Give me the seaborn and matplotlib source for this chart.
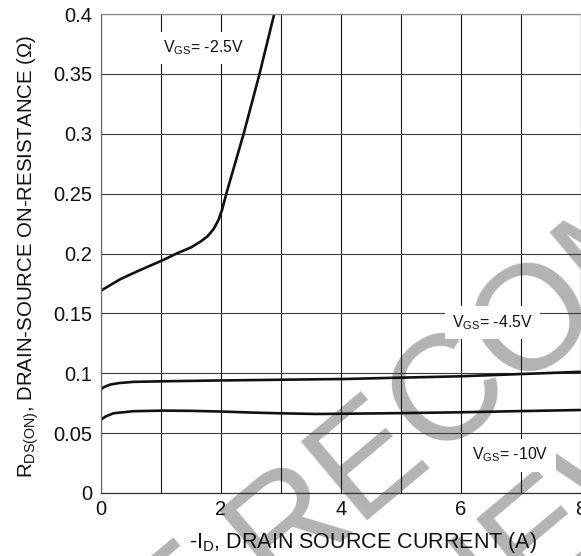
import numpy as np
import pandas as pd
import matplotlib
matplotlib.use("Agg")
import matplotlib.pyplot as plt
import seaborn as sns

# ---------------- data ----------------
id_25 = [0.0, 0.32, 0.6, 1.04, 1.27, 1.5, 1.66, 1.78, 1.88, 1.96, 2.02, 2.10, 2.38, 2.64, 2.89]
r_25 = [0.169, 0.1785, 0.185, 0.1946, 0.2002, 0.205, 0.2099, 0.2145, 0.2205, 0.228, 0.2365, 0.2516, 0.300, 0.349, 0.400]

id_45 = [0.0, 0.05, 0.15, 0.3, 0.54, 1.04, 2.03, 3.03, 4.06, 4.98, 5.95, 6.99, 8.0]
r_45 = [0.0865, 0.0885, 0.0905, 0.0918, 0.0928, 0.0933, 0.0940, 0.0946, 0.0952, 0.0963, 0.0974, 0.0993, 0.1012]

id_10 = [0.0, 0.08, 0.21, 0.54, 1.04, 1.5, 2.03, 2.5, 3.03, 3.6, 4.07, 5.0, 6.0, 7.0, 8.0]
r_10 = [0.0612, 0.0640, 0.0666, 0.0683, 0.0688, 0.0686, 0.0680, 0.0672, 0.0665, 0.0660, 0.0662, 0.0667, 0.0674, 0.0684, 0.0693]

series_names = ["-2.5V", "-4.5V", "-10V"]
x_ticks = [0, 1, 2, 3, 4, 5, 6, 7, 8]
x_ticklabels = ["0", "", "2", "", "4", "", "6", "", "8"]
y_ticks = [0, 0.05, 0.1, 0.15, 0.2, 0.25, 0.3, 0.35, 0.4]
y_ticklabels = ["0", "0.05", "0.1", "0.15", "0.2", "0.25", "0.3", "0.35", "0.4"]

df = pd.concat([
    pd.DataFrame({"id": id_25, "r": r_25, "vgs": series_names[0]}),
    pd.DataFrame({"id": id_45, "r": r_45, "vgs": series_names[1]}),
    pd.DataFrame({"id": id_10, "r": r_10, "vgs": series_names[2]}),
], ignore_index=True)

# ---------------- style ----------------
sns.set_style("white")
plt.rcParams["font.family"] = ["Liberation Sans", "DejaVu Sans"]
plt.rcParams["mathtext.fontset"] = "custom"
plt.rcParams["mathtext.rm"] = "Liberation Sans"
plt.rcParams["mathtext.it"] = "Liberation Sans:italic"
plt.rcParams["mathtext.bf"] = "Liberation Sans:bold"

W, H = 581, 556
fig = plt.figure(figsize=(W / 100, H / 100), dpi=100)
fig.patch.set_facecolor("white")

# watermark (under everything)
wm_color = "#b3b3b3"
wm_kw = dict(rotation=40, rotation_mode="anchor", va="baseline", fontsize=108,
             color=wm_color, zorder=-1, family="Liberation Sans")
fig.text(273 / W, 1 - 589 / H, "RECOMMENDED", ha="left", **wm_kw)
fig.text(273 / W, 1 - 589 / H, "NOT ", ha="right", **wm_kw)
fig.text(176 / W, 1 - 905 / H, "FOR NEW DESIGN", ha="left", **wm_kw)

left, right, top, bottom = 101, 580.5, 14, 493
ax = fig.add_axes([left / W, 1 - bottom / H, (right - left) / W, (bottom - top) / H])
ax.patch.set_alpha(0)

sns.lineplot(data=df, x="id", y="r", hue="vgs", hue_order=series_names,
             palette=["#111111", "#111111", "#111111"], legend=False,
             estimator=None, sort=False, linewidth=1.9, ax=ax)

ax.set_xlim(0, 8)
ax.set_ylim(0, 0.4)
ax.set_xticks(x_ticks)
ax.set_xticklabels(x_ticklabels)
ax.set_yticks(y_ticks)
ax.set_yticklabels(y_ticklabels)
ax.tick_params(axis="both", length=0, labelsize=14.5, colors="#111111")
ax.tick_params(axis="y", pad=6.5)
ax.tick_params(axis="x", pad=5)
ax.set_xlabel("")
ax.set_ylabel("")

ax.set_axisbelow(True)
ax.xaxis.grid(True, color="#151515", linewidth=0.8)
ax.yaxis.grid(True, color="#3a3a3a", linewidth=0.8)

ax.spines["top"].set_color("#8a8a8a")
ax.spines["left"].set_color("#6a6a6a")
ax.spines["right"].set_color("#cfcfcf")
ax.spines["bottom"].set_color("#333333")
for s in ax.spines.values():
    s.set_linewidth(0.9)
    s.set_visible(True)

box = dict(boxstyle="square,pad=0.45", facecolor="white", edgecolor="none")
ax.text(1.04, 0.3716, r"V$_{\mathrm{GS}}$= -2.5V", ha="left", va="center",
        fontsize=11.4, color="#111111", bbox=box, zorder=4)
ax.text(5.85, 0.142, r"V$_{\mathrm{GS}}$= -4.5V", ha="left", va="center",
        fontsize=11.4, color="#111111", bbox=box, zorder=4)
ax.text(6.19, 0.0317, r"V$_{\mathrm{GS}}$= -10V", ha="left", va="center",
        fontsize=11.4, color="#111111", bbox=box, zorder=4)

fig.text(363 / W, 1 - 548 / H, r"-I$_{\mathrm{D}}$, DRAIN SOURCE CURRENT (A)",
         ha="center", va="baseline", fontsize=15.5, color="#111111")
fig.text(32.5 / W, 1 - 256 / H, r"R$_{\mathrm{DS(ON)}}$, DRAIN-SOURCE ON-RESISTANCE (Ω)",
         rotation=90, rotation_mode="anchor", ha="center", va="baseline",
         fontsize=14.7, color="#111111")

fig.savefig("out.png", dpi=100)
